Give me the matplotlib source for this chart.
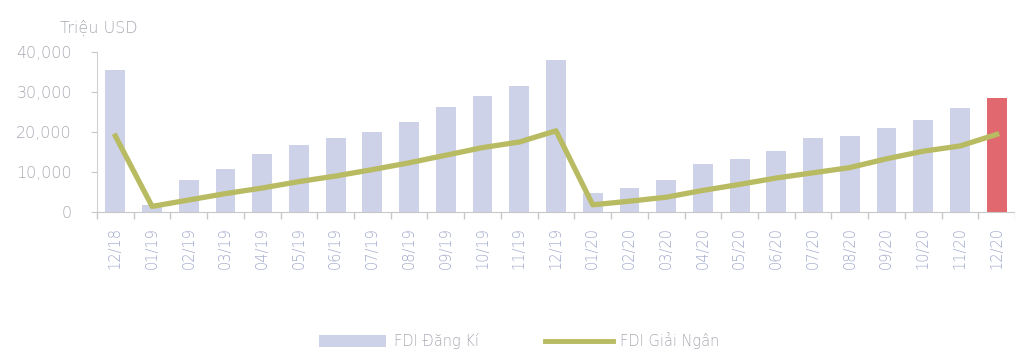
import numpy as np
import matplotlib
matplotlib.use("Agg")
import matplotlib.pyplot as plt
from matplotlib.patches import Patch
from matplotlib.lines import Line2D

# Monthly FDI, million USD
months = ["12/18", "01/19", "02/19", "03/19", "04/19", "05/19", "06/19", "07/19",
          "08/19", "09/19", "10/19", "11/19", "12/19", "01/20", "02/20", "03/20",
          "04/20", "05/20", "06/20", "07/20", "08/20", "09/20", "10/20", "11/20", "12/20"]
registered = [35600, 1800, 8100, 10800, 14600, 16800, 18400, 20100, 22500, 26200,
              28900, 31600, 37900, 4800, 6000, 8100, 11900, 13300, 15200, 18400,
              19000, 20900, 23000, 26000, 28500]
disbursed = [19000, 1400, 3000, 4600, 6000, 7600, 9000, 10600, 12300, 14200,
             16100, 17500, 20300, 1800, 2700, 3700, 5400, 6900, 8500, 9800,
             11100, 13300, 15200, 16500, 19400]

plt.rcParams["font.family"] = ["DejaVu Sans"]
plt.rcParams["font.weight"] = 200
text_col = "#a9abb4"
xlab_col = "#a3abcc"
bar_col = "#cdd2e8"
hl_col = "#e0686e"
line_col = "#b8bb62"

fig = plt.figure(figsize=(10.15, 3.5), dpi=100)
ax = fig.add_axes([97 / 1015, (350 - 212) / 350, (1015 - 97) / 1015, 160 / 350])

x = np.arange(len(months))
colors = [bar_col] * (len(months) - 1) + [hl_col]
ax.bar(x, registered, width=0.54, color=colors, zorder=2)
ax.plot(x, disbursed, color=line_col, lw=3.8, zorder=3)

ax.set_xlim(-0.5, 24.3)
ax.set_ylim(0, 40000)
ax.set_yticks([0, 10000, 20000, 30000, 40000])
ax.set_yticklabels(["0", "10,000", "20,000", "30,000", "40,000"])
ax.set_xticks(x)
ax.set_xticklabels(months, rotation=90, va="top")
ax.set_xticks(np.arange(-0.5, 25, 1), minor=True)
ax.tick_params(axis="x", which="major", length=0, pad=11, labelsize=10.5, labelcolor=xlab_col)
ax.tick_params(axis="x", which="minor", length=5, color="#c8c8c8", width=1)
ax.tick_params(axis="y", length=4, color="#c8c8c8", labelsize=11.5, labelcolor=text_col, pad=14)

for s in ["top", "right"]:
    ax.spines[s].set_visible(False)
ax.spines["left"].set_color("#d0d0d0")
ax.spines["bottom"].set_color("#c8c8c8")

fig.text(60 / 1015, 1 - 28 / 350, "Triệu USD", color=text_col, fontsize=11.5,
         va="center", ha="left")

handles = [Patch(facecolor=bar_col, edgecolor="none"),
           Line2D([0], [0], color=line_col, lw=3.5)]
fig.legend(handles, ["FDI Đăng Kí", "FDI Giải Ngân"], loc="center left",
           bbox_to_anchor=(306 / 1015, 1 - 341 / 350), ncol=2, frameon=False,
           labelcolor=text_col, handlelength=4.6, handleheight=0.9,
           columnspacing=4.6, handletextpad=0.5, prop={"size": 10.5, "weight": 200})

fig.savefig("out.png", dpi=100)
